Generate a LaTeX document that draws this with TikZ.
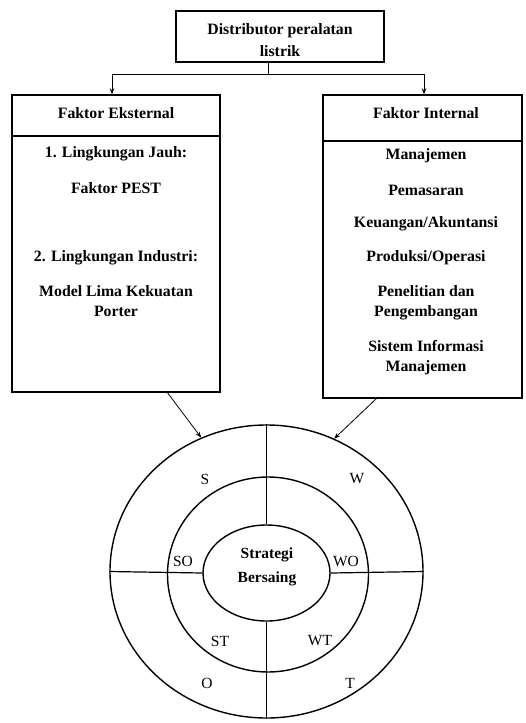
\documentclass[tikz,border=0pt]{standalone}
\usepackage{fontspec}
\setmainfont{Liberation Serif}
\usetikzlibrary{shapes.geometric,arrows.meta}
\begin{document}
\begin{tikzpicture}[x=1pt,y=-1pt,
  box/.style={draw,line width=1.4pt,inner sep=0pt,anchor=center},
  txt/.style={font=\fontsize{15.8}{20}\selectfont\bfseries,align=center,inner sep=0pt},
  lbl/.style={font=\fontsize{15.5}{18}\selectfont,inner sep=0pt},
  ring/.style={draw,ellipse,line width=1.4pt,inner sep=0pt},
  conn/.style={line width=0.8pt},
  arr/.style={line width=0.8pt,-{Stealth[length=6pt,width=4.5pt]}}]
\useasboundingbox (0,0) rectangle (525,723);
% boxes
\node[box,minimum width=208pt,minimum height=51pt] (top) at (280,36.5) {};
\node[txt,font=\fontsize{15.8}{22}\selectfont\bfseries] at (280,40) {Distributor peralatan\\listrik};
\node[box,minimum width=208pt,minimum height=41pt] (lh) at (116,115.5) {};
\node[box,minimum width=208pt,minimum height=256pt] (lb) at (116,264) {};
\node[box,minimum width=199pt,minimum height=46pt] (rh) at (422.5,118) {};
\node[box,minimum width=199pt,minimum height=257pt] (rb) at (422.5,269.5) {};
\node[txt] at (116,113) {Faktor Eksternal};
\node[txt] at (116,154) {1. Lingkungan Jauh:};
\node[txt] at (116,188) {Faktor PEST};
\node[txt] at (116,258) {2. Lingkungan Industri:};
\node[txt] at (116,301) {Model Lima Kekuatan\\Porter};
\node[txt] at (426,113) {Faktor Internal};
\node[txt] at (426,156) {Manajemen};
\node[txt] at (426,190) {Pemasaran};
\node[txt] at (426,224) {Keuangan/Akuntansi};
\node[txt] at (426,258) {Produksi/Operasi};
\node[txt] at (426,303) {Penelitian dan\\Pengembangan};
\node[txt] at (426,358) {Sistem Informasi\\Manajemen};
% connectors top
\coordinate (jM) at (268,74);
\coordinate (jL) at (112,74);
\coordinate (jR) at (424,74);
\draw[conn] (top.south -| jM) -- (jM);
\draw[conn] (jL) -- (jR);
\draw[arr] (jL) -- (lh.north -| jL);
\draw[arr] (jR) -- (rh.north -| jR);
% rings
\node[ring,minimum width=313pt,minimum height=293pt] (outer) at (266.5,571.5) {};
\node[ring,minimum width=201pt,minimum height=195pt] (mid) at (268,574.5) {};
\node[ring,minimum width=127pt,minimum height=96pt] (inner) at (266.5,573) {};
\draw[line width=1.2pt] (outer.north) -- (inner.north);
\draw[line width=1.2pt] (outer.west) -- (inner.west);
\draw[line width=1.2pt] (inner.east) -- (outer.east);
\draw[line width=1.2pt] (inner.south) -- (outer.south);
% arrows to circle
\coordinate (aL) at (167,392);
\coordinate (aR) at (377,398);
\draw[arr] (aL) -- (outer.116);
\draw[arr] (aR) -- (outer.63);
% labels
\node[lbl] at (205,479) {S};
\node[lbl] at (357,479) {W};
\node[lbl] at (183,561) {SO};
\node[lbl] at (346,561) {WO};
\node[lbl] at (220,641) {ST};
\node[lbl] at (320,641) {WT};
\node[lbl] at (207,683) {O};
\node[lbl] at (350,683) {T};
\node[txt,font=\fontsize{15.5}{24}\selectfont\bfseries] at (267,567) {Strategi\\Bersaing};
\end{tikzpicture}
\end{document}
